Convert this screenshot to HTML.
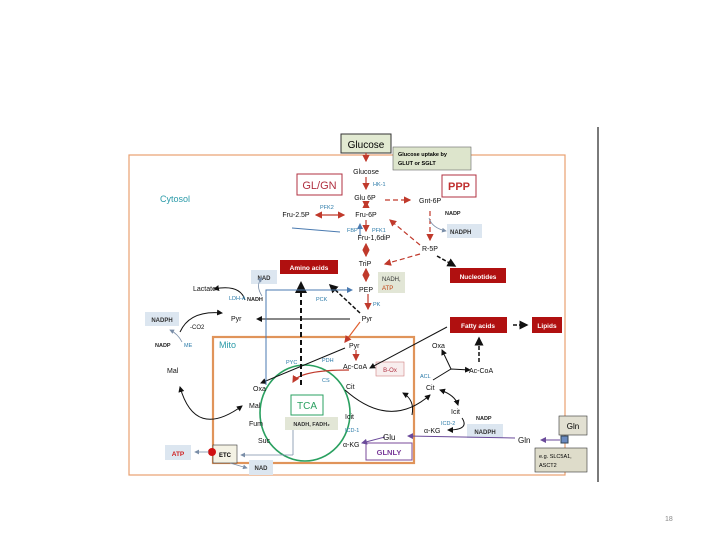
<!DOCTYPE html>
<html><head><meta charset="utf-8"><style>
html,body{margin:0;padding:0;background:#fff;}
svg{display:block;font-family:"Liberation Sans",sans-serif;}
</style></head><body>
<svg width="720" height="540" viewBox="0 0 720 540" xmlns="http://www.w3.org/2000/svg">
<defs>
<marker id="ak" markerWidth="6" markerHeight="6" refX="5" refY="3" orient="auto"><path d="M0,0 L6,3 L0,6z" fill="#111"/></marker>
<marker id="akb" markerWidth="6" markerHeight="6" refX="1" refY="3" orient="auto"><path d="M6,0 L0,3 L6,6z" fill="#111"/></marker>
<marker id="ar" markerWidth="6" markerHeight="6" refX="5" refY="3" orient="auto"><path d="M0,0 L6,3 L0,6z" fill="#c0392b"/></marker>
<marker id="arb" markerWidth="6" markerHeight="6" refX="1" refY="3" orient="auto"><path d="M6,0 L0,3 L6,6z" fill="#c0392b"/></marker>
<marker id="ab" markerWidth="6" markerHeight="6" refX="5" refY="3" orient="auto"><path d="M0,0 L6,3 L0,6z" fill="#4a7ab0"/></marker>
<marker id="ag" markerWidth="6" markerHeight="6" refX="5" refY="3" orient="auto"><path d="M0,0 L6,3 L0,6z" fill="#7a8ea8"/></marker>
<marker id="ap" markerWidth="6" markerHeight="6" refX="5" refY="3" orient="auto"><path d="M0,0 L6,3 L0,6z" fill="#6a4a9a"/></marker>
</defs>
<line x1="598" y1="127" x2="598" y2="482" stroke="#222" stroke-width="1.2"/>
<rect x="129" y="155" width="436" height="320" fill="none" stroke="#e8a070" stroke-width="1.2"/>
<rect x="213" y="337" width="201" height="126" fill="none" stroke="#e0945a" stroke-width="2.2"/>
<rect x="341" y="134" width="50" height="19" fill="#e2ead2" stroke="#333"/>
<text x="366" y="148" font-size="10" text-anchor="middle">Glucose</text>
<rect x="393" y="147" width="78" height="23" fill="#dde5cc" stroke="#666" stroke-width=".6"/>
<text x="398" y="156" font-size="5.5" font-weight="bold">Glucose uptake by</text>
<text x="398" y="165" font-size="5.5" font-weight="bold">GLUT or SGLT</text>
<rect x="297" y="174" width="45" height="21" fill="#fff" stroke="#b03040"/>
<text x="319.5" y="189" font-size="11" fill="#b03040" text-anchor="middle">GL/GN</text>
<rect x="442" y="175" width="34" height="22" fill="#fff" stroke="#b03040"/>
<text x="459" y="190" font-size="11" fill="#c03030" text-anchor="middle" font-weight="bold">PPP</text>
<text x="160" y="202" font-size="9" fill="#2a9aa8">Cytosol</text>
<rect x="447" y="224" width="35" height="14" fill="#dce6f0"/>
<text x="450" y="234" font-size="6" font-weight="bold" fill="#333">NADPH</text>
<rect x="450" y="268" width="56" height="15" fill="#b01010"/>
<text x="478" y="279" font-size="6.5" font-weight="bold" fill="#fff" text-anchor="middle">Nucleotides</text>
<rect x="378" y="272" width="27" height="21" fill="#e2e6d6"/>
<text x="382" y="281" font-size="6" fill="#333">NADH,</text>
<text x="382" y="290" font-size="6" fill="#c04010">ATP</text>
<rect x="280" y="260" width="58" height="14" fill="#b01010"/>
<text x="309" y="270" font-size="6.5" font-weight="bold" fill="#fff" text-anchor="middle">Amino acids</text>
<rect x="251" y="270" width="26" height="14" fill="#dce6f0"/>
<text x="264" y="280" font-size="6" font-weight="bold" fill="#333" text-anchor="middle">NAD</text>
<rect x="145" y="312" width="34" height="14" fill="#dce6f0"/>
<text x="162" y="322" font-size="6" font-weight="bold" fill="#333" text-anchor="middle">NADPH</text>
<rect x="450" y="317" width="57" height="16" fill="#b01010"/>
<text x="478" y="328" font-size="6.5" font-weight="bold" fill="#fff" text-anchor="middle">Fatty acids</text>
<rect x="532" y="317" width="30" height="16" fill="#b01010"/>
<text x="547" y="328" font-size="6.5" font-weight="bold" fill="#fff" text-anchor="middle">Lipids</text>
<rect x="376" y="362" width="28" height="14" fill="#f8eeee" stroke="#d08080" stroke-width=".6"/>
<text x="390" y="372" font-size="6" fill="#b03040" text-anchor="middle">B-Ox</text>
<rect x="291" y="395" width="32" height="20" fill="#fff" stroke="#2aa060"/>
<text x="307" y="409" font-size="10" fill="#2aa060" text-anchor="middle">TCA</text>
<rect x="285" y="417" width="53" height="13" fill="#e2e6d6"/>
<text x="311.5" y="426" font-size="5.5" font-weight="bold" fill="#333" text-anchor="middle">NADH, FADH₂</text>
<rect x="213" y="445" width="24" height="18" fill="#f4f2e4" stroke="#333" stroke-width=".6"/>
<text x="225" y="457" font-size="6" font-weight="bold" text-anchor="middle">ETC</text>
<circle cx="212" cy="452" r="4" fill="#d01010"/>
<rect x="165" y="445" width="26" height="15" fill="#dce6f0"/>
<text x="178" y="456" font-size="6.5" font-weight="bold" fill="#d02020" text-anchor="middle">ATP</text>
<rect x="249" y="460" width="24" height="15" fill="#dce6f0"/>
<text x="261" y="470" font-size="6" font-weight="bold" fill="#333" text-anchor="middle">NAD</text>
<rect x="366" y="443" width="46" height="17" fill="#fff" stroke="#7a4a9a"/>
<text x="389" y="455" font-size="7.5" font-weight="bold" fill="#7a3a9a" text-anchor="middle">GLNLY</text>
<rect x="467" y="424" width="36" height="14" fill="#dce6f0"/>
<text x="485" y="434" font-size="6" font-weight="bold" fill="#333" text-anchor="middle">NADPH</text>
<rect x="559" y="416" width="28" height="19" fill="#e2e0d2" stroke="#333" stroke-width=".6"/>
<text x="573" y="429" font-size="8" text-anchor="middle">Gln</text>
<rect x="535" y="448" width="52" height="24" fill="#dedcca" stroke="#333" stroke-width=".6"/>
<text x="539" y="458" font-size="5.5">e.g. SLC5A1,</text>
<text x="539" y="467" font-size="5.5">ASCT2</text>
<rect x="561" y="436" width="7" height="7" fill="#6a8ac0" stroke="#345"/>
<ellipse cx="305" cy="413" rx="45" ry="48" fill="none" stroke="#2aa060" stroke-width="1.6"/>
<g stroke="#c0392b" stroke-width="1.2" fill="none">
<line x1="366" y1="153" x2="366" y2="161" marker-end="url(#ar)"/>
<line x1="366" y1="177" x2="366" y2="189" marker-end="url(#ar)"/>
<line x1="366" y1="202" x2="366" y2="207" marker-end="url(#ar)" marker-start="url(#arb)"/>
<line x1="366" y1="220" x2="366" y2="231" marker-end="url(#ar)"/>
<line x1="366" y1="244" x2="366" y2="256" marker-end="url(#ar)" marker-start="url(#arb)"/>
<line x1="366" y1="269" x2="366" y2="281" marker-end="url(#ar)" marker-start="url(#arb)"/>
<line x1="368" y1="294" x2="368" y2="309" marker-end="url(#ar)"/>
<line x1="316" y1="215" x2="344" y2="215" marker-end="url(#ar)" marker-start="url(#arb)"/>
<line x1="345" y1="342" x2="360" y2="322" marker-start="url(#arb)" stroke="#e06030"/>
<line x1="356" y1="350" x2="356" y2="360" marker-end="url(#ar)"/>
<path d="M349,370 Q300,370 293,382" marker-end="url(#ar)"/>
<g stroke-dasharray="5,3">
<line x1="385" y1="200" x2="410" y2="200" marker-end="url(#ar)"/>
<line x1="430" y1="211" x2="430" y2="240" marker-end="url(#ar)"/>
<line x1="420" y1="245" x2="390" y2="220" marker-end="url(#ar)"/>
<line x1="420" y1="254" x2="385" y2="264" marker-end="url(#ar)"/>
</g>
</g>
<g stroke="#111" stroke-width="1" fill="none">
<line x1="437" y1="256" x2="455" y2="266" stroke-width="1.5" stroke-dasharray="4,2" marker-end="url(#ak)"/>
<line x1="360" y1="313" x2="330" y2="285" stroke-width="1.5" stroke-dasharray="4,2" marker-end="url(#ak)"/>
<line x1="301" y1="385" x2="301" y2="283" stroke-width="2" stroke-dasharray="5,3" marker-end="url(#ak)"/>
<line x1="350" y1="319" x2="257" y2="319" marker-end="url(#ak)"/>
<line x1="513" y1="325" x2="527" y2="325" stroke-width="1.5" stroke-dasharray="4,2" marker-end="url(#ak)"/>
<line x1="479" y1="362" x2="479" y2="338" stroke-width="1.5" stroke-dasharray="4,2" marker-end="url(#ak)"/>
<line x1="447" y1="327" x2="370" y2="368" marker-end="url(#ak)"/>
<line x1="345" y1="348" x2="261" y2="383" marker-end="url(#ak)"/>
<path d="M245,300 Q240,284 214,289" marker-end="url(#ak)"/>
<path d="M180,332 Q190,310 222,313" marker-end="url(#ak)"/>
<path d="M180,387 Q195,440 242,406" marker-start="url(#akb)" marker-end="url(#ak)"/>
<path d="M345,390 Q390,430 430,395" marker-end="url(#ak)"/>
<path d="M433,380 L451,369 L470,370" marker-end="url(#ak)"/>
<line x1="451" y1="369" x2="442" y2="350" marker-end="url(#ak)"/>
<path d="M440,390 Q455,395 458,405" marker-start="url(#akb)" marker-end="url(#ak)"/>
<path d="M462,418 Q470,430 448,430" marker-end="url(#ak)"/>
<path d="M412,415 Q415,400 403,393" marker-end="url(#ak)"/>
</g>
<g stroke="#4a7ab0" stroke-width="1" fill="none">
<polyline points="266,385 266,290 352,290" marker-end="url(#ab)"/>
<line x1="340" y1="232" x2="292" y2="228"/>
<line x1="360" y1="236" x2="360" y2="224" marker-end="url(#ab)"/>
</g>
<g stroke="#7a8ea8" stroke-width=".8" fill="none">
<path d="M429,218 Q432,228 446,231" marker-end="url(#ag)"/>
<path d="M262,296 Q255,285 262,278" marker-end="url(#ag)"/>
<path d="M182,342 Q178,334 170,330" marker-end="url(#ag)"/>
<line x1="293" y1="430" x2="293" y2="455" />
<line x1="293" y1="455" x2="241" y2="455" marker-end="url(#ag)"/>
<line x1="209" y1="452" x2="195" y2="452" marker-end="url(#ag)"/>
<line x1="230" y1="463" x2="247" y2="468" marker-end="url(#ag)"/>
</g>
<g stroke="#6a4a9a" stroke-width="1" fill="none">
<line x1="515" y1="438" x2="408" y2="436" marker-end="url(#ap)"/>
<line x1="385" y1="437" x2="362" y2="443" marker-end="url(#ap)"/>
<line x1="560" y1="440" x2="541" y2="440" marker-end="url(#ap)"/>
</g>
<g font-size="7" fill="#111">
<text x="366" y="174" text-anchor="middle">Glucose</text>
<text x="365" y="200" text-anchor="middle">Glu 6P</text>
<text x="366" y="217" text-anchor="middle">Fru-6P</text>
<text x="374" y="240" text-anchor="middle">Fru-1,6diP</text>
<text x="365" y="266" text-anchor="middle">TriP</text>
<text x="366" y="292" text-anchor="middle">PEP</text>
<text x="367" y="321" text-anchor="middle">Pyr</text>
<text x="296" y="217" text-anchor="middle">Fru-2.5P</text>
<text x="419" y="203">Gnt-6P</text>
<text x="422" y="251">R-5P</text>
<text x="193" y="291">Lactate</text>
<text x="231" y="321">Pyr</text>
<text x="167" y="373">Mal</text>
<text x="349" y="348">Pyr</text>
<text x="343" y="369">Ac-CoA</text>
<text x="346" y="389">Cit</text>
<text x="253" y="391">Oxa</text>
<text x="249" y="408">Mal</text>
<text x="249" y="426">Fum</text>
<text x="258" y="443">Suc</text>
<text x="345" y="419">Icit</text>
<text x="343" y="447">α-KG</text>
<text x="432" y="348">Oxa</text>
<text x="469" y="373">Ac-CoA</text>
<text x="426" y="390">Cit</text>
<text x="451" y="414">Icit</text>
<text x="424" y="433">α-KG</text>
<text x="383" y="440" font-size="8">Glu</text>
<text x="518" y="443" font-size="8">Gln</text>
<text x="190" y="329" font-size="6">-CO2</text>
</g>
<g font-size="5.5" font-weight="bold" fill="#222">
<text x="445" y="215">NADP</text>
<text x="155" y="347">NADP</text>
<text x="247" y="301">NADH</text>
<text x="476" y="420">NADP</text>
</g>
<g font-size="5.5" fill="#2a7aa8">
<text x="373" y="186">HK-1</text>
<text x="320" y="209">PFK2</text>
<text x="347" y="232">FBP</text>
<text x="372" y="232">PFK1</text>
<text x="373" y="306">PK</text>
<text x="229" y="300">LDH-A</text>
<text x="316" y="301">PCK</text>
<text x="184" y="347">ME</text>
<text x="286" y="364">PYC</text>
<text x="322" y="362">PDH</text>
<text x="322" y="382">CS</text>
<text x="345" y="432">ICD-1</text>
<text x="420" y="378">ACL</text>
<text x="441" y="425">ICD-2</text>
</g>
<text x="219" y="348" font-size="9" fill="#2a9aa8">Mito</text>
<text x="665" y="521" font-size="7" fill="#888">18</text>
</svg>
</body></html>
